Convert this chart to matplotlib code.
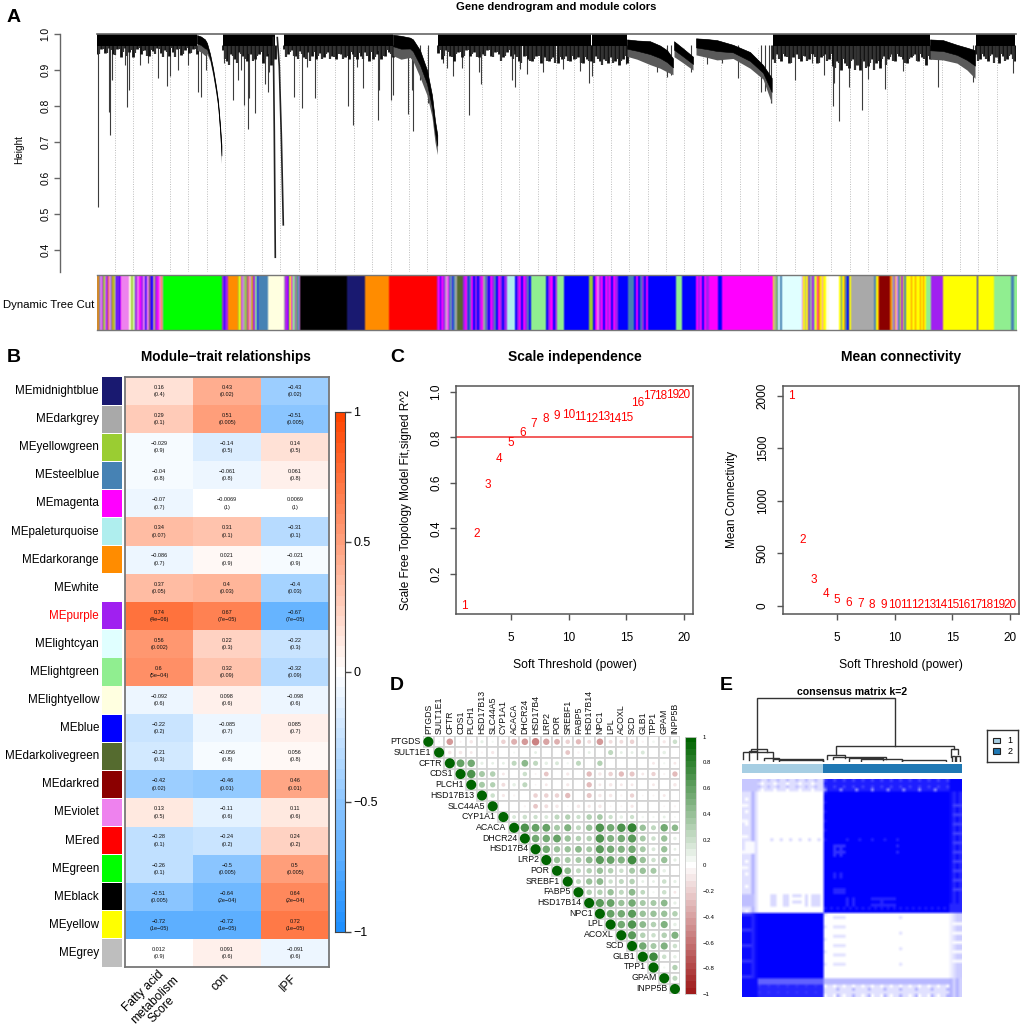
import numpy as np
import matplotlib
matplotlib.use("Agg")
import matplotlib.pyplot as plt
from matplotlib.colors import LinearSegmentedColormap, to_rgb
from matplotlib.patches import Circle, Rectangle

plt.rcParams['font.family'] = ['Liberation Sans', 'DejaVu Sans']

W, H = 1021, 1026

# ---- panel A data ----
# dense part of the dendrogram: (first leaf, last leaf, lower edge heights)
flat_bands = [
    (0, 100, [.945, .957, .948, .962, .945, .958, .935, .960, .950, .935, .958, .945, .955, .940, .952, .960,
              .946, .955, .938, .950, .958, .942, .955, .948, .958, .945]),
    (126, 178, [.955, .925, .945, .93, .95, .94, .925, .945, .93, .945, .92, .94, .915, .93]),
    (187, 296, [.958, .945, .955, .94, .952, .935, .95, .94, .93, .948, .935, .95, .94, .93, .945, .935, .93,
                .945, .93, .94, .95, .925, .93, .945, .93, .94, .95, .935]),
    (341, 418, [.948, .93, .955, .94, .925, .95, .935, .955, .94, .95, .935, .945, .955, .94, .95, .945, .935, .95,
                .94, .955]),
    (418, 448, [.945, .925, .94, .93, .925, .94, .92, .935]),
    (448, 494, [.94, .925, .935, .92, .93, .94, .925, .93, .935, .92, .93, .925]),
    (495, 530, [.93, .94, .925, .93, .92, .935, .925, .915, .93, .92]),
    (676, 736, [.93, .945, .925, .94, .92, .935, .945, .925, .94, .93, .945, .92, .935, .945, .93, .92]),
    (736, 783, [.91, .925, .90, .92, .905, .93, .915, .90, .925, .91, .93, .92, .905]),
    (783, 833, [.925, .94, .93, .945, .925, .94, .93, .92, .935, .945, .925, .935, .915, .93]),
    (879, 918, [.945, .93, .94, .925, .945, .935, .92, .94, .93, .945, .925]),
]
# parts of the tree that sweep downwards: leaf, upper edge, lower edge
curve_leaf = [
    [100, 104, 108, 110, 113, 116, 119, 121, 123, 124.5],
    [296, 304, 313, 316, 323, 330, 335, 338, 340.3],
    [530, 540, 553, 563, 570, 576],
    [577, 586, 596],
    [599, 610, 620, 636, 653, 666, 674.7],
    [833, 846, 860, 870, 878],
]
curve_top = [
    [.997, .993, .985, .975, .945, .905, .855, .815, .75, .69],
    [.998, .995, .99, .985, .955, .90, .83, .76, .72],
    [.985, .982, .98, .968, .955, .932],
    [.98, .96, .937],
    [.988, .986, .983, .970, .95, .914, .878],
    [.985, .983, .97, .962, .955],
]
curve_low = [
    [.955, .95, .94, .945, .925, .885, .835, .795, .72, .64],
    [.94, .93, .935, .925, .88, .83, .77, .70, .665],
    [.938, .93, .915, .905, .895, .887],
    [.937, .92, .90],
    [.942, .935, .928, .932, .905, .875, .807],
    [.93, .928, .919, .90, .877],
]
# single thin branches hanging below the dense band
hair_leaf = [.7, 12, 13.3, 15.3, 28, 30.3, 31.7, 43, 51.3, 61.3, 69.7, 73, 81.3, 91.3, 100.7, 104, 108.7,
             127, 136, 141, 143.7, 147.3, 150.7, 152.3, 158, 168, 170.7, 172.3, 197, 204.7, 209.7, 217.7,
             251.3, 255.7, 259.7, 266.3, 281.3, 282, 294, 296, 310.7, 316.3, 315.3, 323, 331.3, 345.7, 350.3,
             355.7, 364.7, 372, 382, 384, 414.7, 418, 423, 430.3, 446.3, 466.3, 483, 492, 495, 529, 560.3,
             569.7, 573.7, 593.7, 609.7, 624.7, 641.3, 663.7, 668, 672.3, 674, 698, 714.7, 727.3, 735.7,
             737.3, 742.3, 752, 765, 771.3, 788, 805.7, 841.3, 876.3, 916]
hair_low = [.52, .784, .719, .872, .914, .798, .844, .914, .919, .877, .856, .883, .90, .914, .84, .824, .90,
            .919, .817, .872, .90, .803, .735, .821, .781, .861, .84, .895, .826, .795, .909, .821,
            .80, .747, .909, .849, .761, .844, .817, .831, .778, .731, .844, .872, .807, .919, .905,
            .883, .905, .774, .895, .861, .872, .852, .903, .889, .894, .903, .897, .863, .883, .917, .894,
            .881, .886, .895, .917, .919, .877, .84, .843, .844, .807, .872, .919, .886, .801,
            .863, .759, .852, .788, .874, .846, .898, .854, .867, .893]
long_branch_leaf = [[176.3, 177.3, 178.3], [180.3, 182.3, 184.3, 186.3]]
long_branch_h = [[.99, .73, .38], [.99, .91, .72, .47]]

module_hex = {'o': '#FF8C00', 'p': '#A020F0', 'b': '#0000FF', 'm': '#FF00FF', 'v': '#EE82EE', 'g': '#00FF00',
              'Y': '#FFFF00', 'yg': '#9ACD32', 'sb': '#4682B4', 'ly': '#FFFFE0', 'lc': '#E0FFFF',
              'pt': '#AFEEEE', 'lg': '#90EE90', 'k': '#000000', 'mb': '#191970', 'r': '#FF0000',
              'dg': '#A9A9A9', 'dr': '#8B0000', 'do': '#556B2F', 'w': '#FFFFFF'}
# colour strip: (leaf where the colour ends, module)
strip_segments = [
    (2, 'o'), (3, 'sb'), (5, 'v'), (6.5, 'p'), (7.5, 'yg'), (9, 'v'), (11, 'p'), (12.5, 'o'), (14, 'v'), (15, 'sb'),
    (16.5, 'o'), (17.5, 'yg'), (19, 'v'), (20.5, 'b'), (22, 'p'), (23, 'b'), (24, 'm'), (31.5, 'v'), (32.5, 'yg'),
    (33.5, 'ly'), (34.5, 'o'), (36, 'yg'), (37, 'ly'), (38, 'lg'), (39.5, 'p'), (41.5, 'v'), (42.5, 'dg'), (44, 'm'),
    (45.5, 'p'), (46.5, 'dg'), (48, 'v'), (49, 'b'), (50.5, 'p'), (52, 'v'), (53, 'do'), (54.5, 'p'), (55.5, 'b'),
    (57, 'v'), (58.5, 'yg'), (60, 'p'), (61.5, 'm'), (62.5, 'dg'), (64, 'v'), (65, 'o'), (66.3, 'v'), (125.3, 'g'),
    (127, 'p'), (128.5, 'b'), (130.7, 'p'), (141.3, 'o'), (142.5, 'yg'), (144, 'Y'), (145, 'p'), (146.5, 'v'),
    (148, 'dg'), (149.5, 'yg'), (151, 'p'), (152, 'o'), (153.5, 'v'), (155, 'yg'), (156.5, 'o'), (158, 'p'),
    (159.5, 'lg'), (161.3, 'b'), (171.3, 'sb'), (187.3, 'ly'), (188.5, 'dg'), (190, 'p'), (191, 'm'), (192.5, 'b'),
    (193.5, 'Y'), (195, 'm'), (196, 'dg'), (197.5, 'lg'), (199, 'p'), (200.5, 'yg'), (201.5, 'sb'), (202.7, 'v'),
    (250.3, 'k'), (268, 'mb'), (292, 'o'), (339.7, 'r'), (341, 'p'), (343, 'm'), (344.5, 'b'), (346, 'm'),
    (347.5, 'p'), (349, 'dg'), (351, 'v'), (352.5, 'm'), (353.5, 'sb'), (355, 'dg'), (356.5, 'b'), (358, 'sb'),
    (359.7, 'dg'), (366.3, 'do'), (368, 'p'), (369.5, 'm'), (371, 'sb'), (372.5, 'b'), (374, 'sb'), (376, 'm'),
    (378, 'b'), (380, 'p'), (382, 'b'), (384, 'p'), (386, 'm'), (388, 'dg'), (389.5, 'sb'), (391, 'p'), (393, 'b'),
    (395, 'm'), (397, 'p'), (399, 'sb'), (401, 'b'), (403, 'm'), (405, 'p'), (407, 'b'), (409.7, 'p'), (418, 'pt'),
    (420, 'b'), (422, 'p'), (424, 'm'), (426, 'b'), (428, 'm'), (430, 'p'), (432, 'sb'), (433.7, 'b'), (448.7, 'lg'),
    (451, 'b'), (453, 'p'), (455.7, 'm'), (458, 'b'), (460.3, 'p'), (466.3, 'lg'), (490.7, 'b'), (495.3, 'yg'),
    (497, 'b'), (499, 'm'), (501, 'v'), (503, 'p'), (505, 'm'), (507, 'b'), (509, 'm'), (511, 'p'), (513, 'm'),
    (515, 'b'), (517, 'm'), (519.7, 'p'), (529.7, 'b'), (532, 'sb'), (536.3, 'sb'), (538, 'b'), (540, 'm'), (542, 'b'),
    (544, 'sb'), (546, 'p'), (548, 'b'), (550, 'm'), (553, 'b'), (578, 'b'), (584, 'lg'), (598, 'b'), (600, 'm'),
    (602, 'p'), (604, 'm'), (606, 'b'), (608, 'm'), (611, 'p'), (614.7, 'm'), (620.3, 'm'), (623.7, 'b'), (631.3, 'm'),
    (674.7, 'm'), (676.5, 'Y'), (677.5, 'dg'), (679, 'yg'), (680, 'sb'), (682, 'lc'), (683.5, 'sb'), (684.7, 'lc'),
    (703.7, 'lc'), (705, 'v'), (707, 'Y'), (708, 'dg'), (710, 'Y'), (711, 'p'), (712.5, 'sb'), (714, 'dg'), (715.5, 'p'),
    (717, 'lg'), (719, 'Y'), (720, 'm'), (722, 'o'), (724, 'Y'), (725, 'v'), (728, 'Y'), (731.3, 'ly'), (741.3, 'w'),
    (743, 'Y'), (744, 'sb'), (746, 'Y'), (747, 'o'), (749, 'sb'), (751, 'b'), (753, 'Y'), (773, 'dg'), (775.5, 'dg'),
    (777.5, 'sb'), (780, 'Y'), (781.3, 'o'), (792.3, 'dr'), (794, 'o'), (795.5, 'dg'), (797, 'p'), (798.5, 'Y'),
    (800, 'v'), (801.5, 'sb'), (803, 'Y'), (805, 'p'), (806, 'Y'), (808, 'sb'), (813, 'Y'), (814, 'o'), (817, 'Y'),
    (818, 'o'), (822, 'Y'), (823, 'o'), (825, 'Y'), (826, 'o'), (828, 'Y'), (833, 'lg'), (844.7, 'p'), (879, 'Y'),
    (880.3, 'b'), (896.3, 'Y'), (913, 'lg'), (916.3, 'sb'), (919, 'lg'),
]

# ---- panel B data ----
module_names = ['midnightblue', 'darkgrey', 'yellowgreen', 'steelblue', 'magenta', 'paleturquoise', 'darkorange',
                'white', 'purple', 'lightcyan', 'lightgreen', 'lightyellow', 'blue', 'darkolivegreen', 'darkred',
                'violet', 'red', 'green', 'black', 'yellow', 'grey']
module_colors = ['#191970', '#A9A9A9', '#9ACD32', '#4682B4', '#FF00FF', '#AFEEEE', '#FF8C00', '#FFFFFF', '#A020F0',
                 '#E0FFFF', '#90EE90', '#FFFFE0', '#0000FF', '#556B2F', '#8B0000', '#EE82EE', '#FF0000', '#00FF00',
                 '#000000', '#FFFF00', '#BEBEBE']
fatty_r = [.16, .29, -.029, -.04, -.07, .34, -.086, .37, .74, .56, .6, -.092, -.22, -.21, -.42, .13, -.28, -.26, -.51,
           -.72, .012]
con_r = [.43, .51, -.14, -.061, -.0069, .31, .021, .4, .67, .22, .32, .098, -.085, -.056, -.46, -.11, -.24, -.5, -.64,
         -.72, .091]
ipf_r = [-.43, -.51, .14, .061, .0069, -.31, -.021, -.4, -.67, -.22, -.32, -.098, .085, .056, .46, .11, .24, .5, .64,
         .72, -.091]
fatty_p = ['0.4', '0.1', '0.9', '0.8', '0.7', '0.07', '0.7', '0.05', '4e−06', '0.002', '5e−04', '0.6', '0.2', '0.3',
           '0.02', '0.5', '0.1', '0.1', '0.005', '1e−05', '0.9']
con_p = ['0.02', '0.005', '0.5', '0.8', '1', '0.1', '0.9', '0.03', '7e−05', '0.3', '0.09', '0.6', '0.7', '0.8', '0.01',
         '0.6', '0.2', '0.005', '2e−04', '1e−05', '0.6']
ipf_p = con_p
trait_lines = ['Fatty acid', 'metabolism', 'Score', 'con', 'IPF']

# ---- panel C data ----
powers = list(range(1, 21))
sft_fit = [.06, .377, .59, .705, .775, .82, .858, .88, .893, .897, .89, .883, .89, .88, .886, .953, .98, .98, .987, .987]
mean_k = [2000, 625, 241, 108, 51, 29, 16, 9, 5, 3, 2, 1, 1, 1, 1, 1, 1, 1, 1, 1]

# ---- panel D data ----
genes = ['PTGDS', 'SULT1E1', 'CFTR', 'CDS1', 'PLCH1', 'HSD17B13', 'SLC44A5', 'CYP1A1', 'ACACA', 'DHCR24', 'HSD17B4',
         'LRP2', 'POR', 'SREBF1', 'FABP5', 'HSD17B14', 'NPC1', 'LPL', 'ACOXL', 'SCD', 'GLB1', 'TPP1', 'GPAM', 'INPP5B']
corr_upper = [
    [.03, -.42, -.05, -.12, .1, .05, -.2, -.35, -.42, -.55, -.4, -.33, -.2, -.28, -.15, -.42, -.15, -.15, -.2, -.05, .07, -.1, .2],
    [-.12, -.12, -.08, -.05, -.1, -.01, .04, 0, .08, .02, 0, -.22, -.06, .08, .02, .25, .08, .08, .15, .02, .12, .02],
    [.6, .55, .1, .08, .08, .25, .45, .25, .12, .15, .06, .25, 0, .28, .02, .02, 0, 0, -.08, .05, -.08],
    [.7, .35, .3, -.08, -.02, .2, -.04, -.22, -.02, -.1, -.02, -.28, -.12, -.2, -.28, -.25, -.08, -.18, -.05, -.28],
    [.35, .28, -.15, .12, .25, -.03, -.08, 0, -.1, 0, -.28, -.08, -.12, -.08, -.08, -.02, -.08, -.02, -.12],
    [.2, -.1, -.05, -.01, -.2, -.2, -.2, -.28, -.02, -.25, -.12, -.12, -.06, -.18, -.03, -.04, -.08, -.01],
    [-.02, -.02, -.05, -.22, -.15, -.12, -.03, -.12, -.1, -.12, -.03, -.04, -.1, -.02, -.02, -.03, -.05],
    [.15, .2, .18, .15, .25, .28, .18, .3, .32, .18, .12, .18, .06, .05, .08, .03],
    [.7, .6, .6, .35, .5, .25, .4, .7, .55, .7, .78, .4, .25, .55, .42],
    [.55, .55, .6, .4, .3, .3, .7, .5, .55, .65, .35, .2, .4, .12],
    [.55, .4, .4, .45, .35, .65, .55, .5, .55, .35, .15, .4, .08],
    [.4, .35, .35, .45, .65, .6, .5, .75, .4, .2, .4, .1],
    [.45, .25, .3, .4, .3, .2, .35, .4, .35, .12, 0],
    [.25, .4, .45, .2, .25, .3, .08, .08, .2, .1],
    [.3, .3, .4, .25, .45, .22, .05, .2, -.08],
    [.65, .6, .4, .55, .35, .35, .45, .1],
    [.6, .55, .65, .4, .4, .4, .3],
    [.55, .7, .45, .3, .5, .12],
    [.65, .3, .2, .3, .5],
    [.55, .35, .5, .2],
    [.72, .2, .12],
    [.05, .28],
    [.25],
]

# ---- panel E data ----
# block layout of the consensus matrix: row / column edges and the level in each block
block_row_edges = [0, 4, 43, 64, 70]
block_col_edges = [0, 5, 26, 66, 70]
block_levels = [[.22, .13, .88, .98],
                [.12, 0, 1, .85],
                [.96, 1, 0, .13],
                [.96, .85, .12, .18]]
# lighter / darker patches: row from, to, step, column from, to, step, level
matrix_patches = [
    (0, 4, 2, 5, 26, 3, .25), (1, 4, 2, 6, 26, 4, 0), (0, 4, 2, 26, 66, 3, .75), (3, 4, 1, 26, 66, 5, .45),
    (4, 43, 1, 3, 4, 1, .3), (6, 43, 4, 1, 3, 2, 0), (8, 30, 5, 0, 2, 1, .02), (20, 24, 1, 1, 4, 1, .02),
    (37, 41, 1, 0, 4, 1, .25), (19, 20, 1, 9, 25, 3, .15), (37, 41, 1, 9, 11, 1, .15), (37, 41, 1, 13, 15, 1, .15),
    (37, 41, 2, 16, 19, 1, .15), (37, 41, 1, 20, 21, 1, .15), (37, 41, 1, 22, 25, 1, .15),
    (21, 25, 1, 29, 33, 2, .8), (21, 25, 2, 29, 33, 1, .8), (30, 32, 1, 29, 33, 2, .85), (35, 37, 1, 29, 33, 1, .85),
    (38, 41, 1, 33, 36, 2, .85), (38, 41, 2, 41, 49, 1, .85), (38, 41, 1, 44, 46, 2, .85), (21, 25, 2, 49, 50, 1, .85),
    (19, 20, 1, 33, 50, 4, .88), (41, 42, 1, 26, 66, 2, .9), (4, 40, 1, 66, 70, 2, .95), (8, 38, 3, 67, 70, 1, .75),
    (4, 20, 3, 26, 27, 1, .92), (44, 61, 3, 29, 33, 1, .12), (44, 61, 5, 50, 51, 1, .12), (43, 60, 4, 26, 27, 1, .1),
    (43, 64, 1, 66, 67, 1, .06), (43, 64, 1, 68, 70, 1, .2), (46, 60, 3, 67, 70, 1, .02),
    (43, 64, 5, 0, 4, 1, .8), (43, 64, 1, 3, 4, 1, .85), (64, 66, 1, 5, 26, 1, .62), (64, 66, 1, 26, 66, 1, .28),
    (66, 70, 2, 5, 26, 3, .8), (66, 70, 3, 26, 66, 3, 0), (67, 70, 2, 30, 66, 5, .3), (64, 70, 1, 66, 70, 2, .3),
]
# dendrogram links over the matrix: left, right, join height, left foot, right foot
matrix_links = [
    (5, 48.8, 1.0, .17, .25), (.5, 10, .15, .04, .04), (3, 8, .2, .15, .15), (2.2, 5, .17, .03, .04),
    (7, 12, .06, .03, .03), (10, 26, .05, .02, .02), (12, 26, .03, .01, .01),
    (30, 67.4, .25, .11, .2), (27, 32.9, .11, .04, .06), (29, 46, .08, .04, .04), (34, 45, .06, .02, .03),
    (38, 51, .05, .02, .02), (51, 65, .03, .01, .01), (66.5, 68.9, .2, .08, .12), (66.8, 68, .1, .02, .02),
    (68.2, 69.5, .09, .01, .01),
]


# ---- helpers working in picture pixels ----
fig = plt.figure(figsize=(W / 100, H / 100), dpi=100, facecolor='white')


def axes_px(x0, y0, x1, y1, **kw):
    return fig.add_axes([x0 / W, 1 - y1 / H, (x1 - x0) / W, (y1 - y0) / H], **kw)


def text_px(x, y, s, **kw):
    kw.setdefault('ha', 'center')
    kw.setdefault('va', 'center')
    fig.text(x / W, 1 - y / H, s, **kw)


for letter, lx, ly in [('A', 14, 17), ('B', 14, 357), ('C', 397, 357), ('D', 397, 685), ('E', 726, 685)]:
    text_px(lx, ly, letter, fontsize=14, fontweight='bold')

# ---- A: dendrogram ----
ax = axes_px(97, 34, 1016, 272)
ax.set_xlim(0, 919)
ax.set_ylim(.339, 1)
ax.vlines(np.arange(18, 915, 18.37), .339, .96, color='#BDBDBD', lw=.7, linestyle=(0, (1, 1.5)), zorder=1)
ax.vlines(hair_leaf, hair_low, .97, color='#3C3C3C', lw=.8, zorder=2)
for first, last, low in flat_bands:
    xs = np.linspace(first, last, len(low))
    step = xs[1] - xs[0]
    ax.vlines(xs, low, .97, color='#111111', lw=2, zorder=2)
    ax.vlines(xs[:-1] + step / 2, low[:0:-1], .97, color='#333333', lw=1.6, zorder=2)
    ax.fill_between([first, last], .966, .999, color='black', lw=0, zorder=3)
for xs, top, low in zip(curve_leaf, curve_top, curve_low):
    top, low = np.array(top), np.array(low)
    ax.fill_between(xs, low, top, color='#5A5A5A', lw=0, zorder=3)
    ax.fill_between(xs, top - (top - low) * .55, top, color='black', lw=.4, zorder=3)
for xs, hs in zip(long_branch_leaf, long_branch_h):
    ax.plot(xs, hs, color='#222222', lw=1.2, zorder=3)
ax.plot([0, 919], [1, 1], color='#666666', lw=1.2, clip_on=False, zorder=4)
for s in ['top', 'right', 'bottom']:
    ax.spines[s].set_visible(False)
ax.spines['left'].set_position(('outward', 26.6))
ax.spines['left'].set_color('#666666')
ax.spines['left'].set_linewidth(1)
ax.set_xticks([])
ax.set_yticks([.4, .5, .6, .7, .8, .9, 1.0])
ax.tick_params(axis='y', length=4, width=1, color='#666666', labelsize=7.4, pad=3)
plt.setp(ax.get_yticklabels(), rotation=90, va='center')
text_px(19, 149, 'Height', rotation=90, fontsize=7.2)
text_px(556, 7.5, 'Gene dendrogram and module colors', fontsize=8.1, fontweight='bold')

# colour strip, slightly smoothed like the screen-resolution original
strip_rgb = np.zeros((919, 3))
seg_start = 0
for seg_end, code in strip_segments:
    strip_rgb[int(round(seg_start)):int(round(seg_end))] = to_rgb(module_hex[code])
    seg_start = seg_end
kernel = [.25, .5, .25]
strip_rgb = np.stack([np.convolve(strip_rgb[:, c], kernel, mode='same') for c in range(3)], axis=1)
strip_rgb[0] = strip_rgb[1]
strip_rgb[-1] = strip_rgb[-2]
ax = axes_px(97, 275, 1016, 330)
ax.imshow(strip_rgb[None, :, :], aspect='auto', interpolation='nearest', extent=[0, 919, 0, 1])
ax.set_xticks([])
ax.set_yticks([])
for s in ['left', 'right']:
    ax.spines[s].set_visible(False)
for s in ['top', 'bottom']:
    ax.spines[s].set_color('#777777')
    ax.spines[s].set_linewidth(1)
text_px(94, 304.5, 'Dynamic Tree Cut', ha='right', fontsize=8.2)

# ---- B: module-trait heatmap ----
bwr = LinearSegmentedColormap.from_list('bwr', ['#1E90FF', '#FFFFFF', '#FF4500'], N=51)
corr = np.array([fatty_r, con_r, ipf_r]).T
n_mod = len(module_names)
ax = axes_px(125, 377, 329, 967)
ax.pcolormesh(np.arange(4), np.arange(n_mod + 1), corr, cmap=bwr, vmin=-1, vmax=1)
ax.set_xlim(0, 3)
ax.set_ylim(n_mod, 0)
ax.set_xticks([])
ax.set_yticks([])
for s in ax.spines.values():
    s.set_color('#777777')
    s.set_linewidth(1.3)
for j, (vals, ps) in enumerate([(fatty_r, fatty_p), (con_r, con_p), (ipf_r, ipf_p)]):
    for i in range(n_mod):
        ax.text(j + .5, i + .37, str(vals[i]).replace('-', '−'), ha='center', va='center', fontsize=4, color='#111111')
        ax.text(j + .5, i + .63, '(' + ps[i] + ')', ha='center', va='center', fontsize=4, color='#111111')
ax = axes_px(102, 377, 122, 967)
ax.set_xlim(0, 1)
ax.set_ylim(n_mod, 0)
ax.axis('off')
ax.barh(np.arange(n_mod) + .5, 1, height=.97, left=0, color=module_colors, lw=0)
for i, name in enumerate(module_names):
    y_lab = 377 + (i + .5) * 590 / n_mod
    text_px(99, y_lab, 'ME' + name, ha='right', fontsize=8.4, color='red' if name == 'purple' else 'black')
text_px(226, 357, 'Module−trait relationships', fontsize=9.8, fontweight='bold')
for (tx, ty), name in zip([(143, 991), (154.5, 1000), (161.5, 1010), (220, 982), (288, 983)], trait_lines):
    text_px(tx, ty, name, rotation=45, fontsize=8.7)

ax = axes_px(335, 412, 345, 932)
ax.imshow(np.linspace(1, -1, 51)[:, None], cmap=bwr, vmin=-1, vmax=1, aspect='auto', extent=[0, 1, -1, 1])
ax.set_xticks([])
ax.yaxis.tick_right()
ax.set_yticks([-1, -.5, 0, .5, 1])
ax.set_yticklabels(['−1', '−0.5', '0', '0.5', '1'])
ax.tick_params(axis='y', length=4, width=1, color='#444444', labelsize=9, pad=2)
for s in ax.spines.values():
    s.set_color('#444444')
    s.set_linewidth(.8)

# ---- C: soft threshold ----
for x0, x1, yvals, ylim, yticks, ylab, title, ylab_x in [
        (456.4, 692.6, sft_fit, (.024, 1.026), [.2, .4, .6, .8, 1.0], 'Scale Free Topology Model Fit,signed R^2',
         'Scale independence', 406),
        (782.8, 1018.5, mean_k, (-80, 2091), [0, 500, 1000, 1500, 2000], 'Mean Connectivity', 'Mean connectivity', 732)]:
    ax = axes_px(x0, 386, x1, 614)
    ax.set_xlim(.27, 20.75)
    ax.set_ylim(*ylim)
    for p, v in zip(powers, yvals):
        ax.text(p, v, str(p), color='red', fontsize=8.5, ha='center', va='center')
    ax.set_xticks([5, 10, 15, 20])
    ax.set_yticks(yticks)
    ax.tick_params(axis='both', length=4, width=1, color='#555555', labelsize=8.5)
    ax.tick_params(axis='x', pad=9)
    ax.tick_params(axis='y', pad=6)
    plt.setp(ax.get_yticklabels(), rotation=90, va='center')
    for s in ax.spines.values():
        s.set_color('#555555')
        s.set_linewidth(1.1)
    if ylab_x == 406:
        ax.axhline(.8, color='#F03030', lw=1.1)
    xc = (x0 + x1) / 2
    text_px(xc, 357, title, fontsize=10, fontweight='bold')
    text_px(xc, 665, 'Soft Threshold (power)', fontsize=8.7)
    text_px(ylab_x, 500, ylab, rotation=90, fontsize=8.5)

# ---- D: correlation plot ----
n_g = len(genes)
rg = LinearSegmentedColormap.from_list('rg', ['#A01C1C', '#FFFFFF', '#006400'], N=41)
ax = axes_px(423, 736.4, 680.3, 994.4)
ax.set_xlim(0, n_g)
ax.set_ylim(n_g, 0)
ax.axis('off')
for i in range(n_g):
    row_vals = [1.0] + corr_upper[i] if i < n_g - 1 else [1.0]
    for k, v in enumerate(row_vals):
        j = i + k
        ax.add_patch(Rectangle((j, i), 1, 1, fc='white', ec='#D2D2D2', lw=1.2, zorder=1))
        if v != 0:
            ax.add_patch(Circle((j + .5, i + .5), .47 * abs(v) ** .5, fc=rg((v + 1) / 2), ec='none', zorder=2))
    text_px(423 + (i + .5) * 10.72 - 7.5, 736.4 + (i + .5) * 10.72, genes[i], ha='right', fontsize=6.3, color='#111111')
    text_px(423 + (i + .5) * 10.72, 734, genes[i], ha='center', va='bottom', rotation=90, fontsize=6.3, color='#111111')
ax = axes_px(685, 736.7, 696, 994)
ax.imshow(np.linspace(1, -1, 41)[:, None], cmap=rg, vmin=-1, vmax=1, aspect='auto', extent=[0, 1, -1, 1])
ax.set_xticks([])
ax.yaxis.tick_right()
ax.set_yticks(np.arange(-10, 11, 2) / 10)
ax.set_yticklabels(['−1', '−0.8', '−0.6', '−0.4', '−0.2', '0', '0.2', '0.4', '0.6', '0.8', '1'])
ax.tick_params(axis='y', length=0, labelsize=4.3, pad=5)
for s in ax.spines.values():
    s.set_color('#CCCCCC')
    s.set_linewidth(.6)

# ---- E: consensus matrix ----
mat = np.zeros((70, 70))
for i in range(4):
    for j in range(4):
        mat[block_row_edges[i]:block_row_edges[i + 1], block_col_edges[j]:block_col_edges[j + 1]] = block_levels[i][j]
for r0, r1, rs, c0, c1, cs, level in matrix_patches:
    mat[r0:r1:rs, c0:c1:cs] = level
wb = LinearSegmentedColormap.from_list('wb', ['#FFFFFF', '#0000FF'])
ax = axes_px(741.7, 779, 961.7, 996.7)
ax.imshow(mat, cmap=wb, vmin=0, vmax=1, aspect='auto', interpolation='bilinear')
ax.axis('off')

ax = axes_px(741.7, 763.7, 961.7, 772.7)
ax.barh(0, 26, left=0, color='#A6CEE3', lw=0)
ax.barh(0, 44, left=26, color='#1F78B4', lw=0)
ax.set_xlim(0, 70)
ax.set_ylim(-.4, .4)
ax.axis('off')

ax = axes_px(741.7, 697, 961.7, 762)
ax.set_xlim(0, 70)
ax.set_ylim(0, 1.01)
ax.axis('off')
for left, right, join, foot_l, foot_r in matrix_links:
    ax.plot([left, left, right, right], [foot_l, join, join, foot_r], color='#333333', lw=1, solid_joinstyle='miter')
text_px(851.7, 692, 'consensus matrix k=2', fontsize=7.6, fontweight='bold')

ax = axes_px(987, 730, 1018, 761.7)
ax.set_xlim(0, 1)
ax.set_ylim(1, 0)
ax.set_xticks([])
ax.set_yticks([])
for s in ax.spines.values():
    s.set_color('#333333')
    s.set_linewidth(1)
ax.add_patch(Rectangle((.2, .24), .23, .17, fc='#A6CEE3', ec='#222222', lw=.8))
ax.add_patch(Rectangle((.2, .58), .23, .17, fc='#1F78B4', ec='#222222', lw=.8))
ax.text(.75, .33, '1', ha='center', va='center', fontsize=6.5)
ax.text(.75, .67, '2', ha='center', va='center', fontsize=6.5)

fig.savefig('out.png', dpi=100)
